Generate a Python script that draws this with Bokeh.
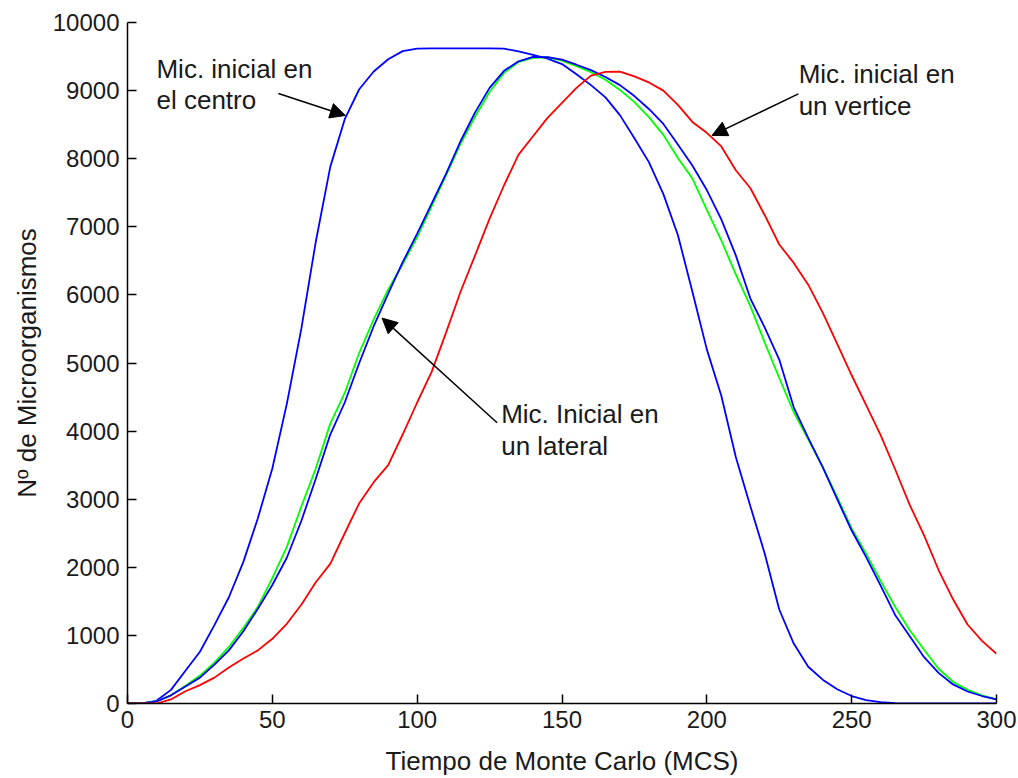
from bokeh.plotting import figure
from bokeh.models import Range1d, FixedTicker, Arrow, NormalHead, Label
from bokeh.embed import file_html
from bokeh.resources import INLINE

# Monte Carlo time steps (MCS)
mcs = list(range(0, 301, 5))

# Population when the initial micro-organisms start in the centre
centro = [0, 0, 40, 200, 480, 760, 1150, 1560, 2080, 2720,
          3450, 4400, 5500, 6780, 7880, 8580, 9020, 9280, 9460, 9580,
          9615, 9620, 9620, 9620, 9620, 9620, 9615, 9575, 9525, 9470,
          9390, 9240, 9080, 8900, 8640, 8300, 7950, 7480, 6880, 6050,
          5200, 4520, 3620, 2900, 2200, 1380, 880, 540, 350, 210,
          110, 50, 20, 5, 0, 0, 0, 0, 0, 0, 0]

# Initial micro-organisms on one side
lateral = [0, 0, 30, 120, 250, 380, 570, 780, 1060, 1390,
           1740, 2140, 2680, 3300, 3950, 4420, 5000, 5540, 6020, 6480,
           6900, 7340, 7780, 8260, 8680, 9040, 9290, 9430, 9495, 9490,
           9455, 9380, 9300, 9200, 9080, 8920, 8730, 8510, 8210, 7900,
           7540, 7110, 6580, 5950, 5520, 5050, 4350, 3900, 3470, 3000,
           2540, 2150, 1730, 1300, 990, 680, 450, 280, 176, 110, 60]

# Second run, initial micro-organisms on one side
lateral_b = [0, 0, 30, 120, 260, 410, 600, 830, 1110, 1420,
             1840, 2300, 2890, 3450, 4110, 4560, 5150, 5640, 6080, 6450,
             6850, 7300, 7760, 8220, 8620, 8980, 9260, 9420, 9480, 9490,
             9440, 9360, 9270, 9160, 9010, 8830, 8610, 8350, 8010, 7710,
             7250, 6800, 6300, 5840, 5300, 4780, 4280, 3880, 3470, 3030,
             2570, 2200, 1800, 1420, 1080, 790, 510, 320, 200, 120, 60]

# Initial micro-organisms in a corner
vertice = [0, 0, 0, 60, 180, 270, 380, 530, 660, 780,
           950, 1170, 1450, 1780, 2050, 2500, 2940, 3250, 3500, 3950,
           4420, 4870, 5450, 6050, 6580, 7120, 7610, 8060, 8330, 8600,
           8820, 9040, 9220, 9275, 9280, 9210, 9120, 9000, 8790, 8540,
           8380, 8180, 7830, 7570, 7170, 6740, 6470, 6150, 5740, 5280,
           4820, 4380, 3940, 3440, 2920, 2470, 1960, 1530, 1160, 920, 730]

x_ticks = [0, 50, 100, 150, 200, 250, 300]
y_ticks = [0, 1000, 2000, 3000, 4000, 5000, 6000, 7000, 8000, 9000, 10000]

FONT = "Liberation Sans"
INK = "#1a1a1a"

p = figure(width=1018, height=778, output_backend="svg", toolbar_location=None,
           x_range=Range1d(0, 300), y_range=Range1d(0, 10000),
           min_border_left=127, min_border_right=22,
           min_border_top=22, min_border_bottom=73)

p.outline_line_color = None
p.xgrid.visible = False
p.ygrid.visible = False
p.background_fill_color = "white"
p.border_fill_color = "white"

for ax in (p.xaxis[0], p.yaxis[0]):
    ax.major_tick_in = 9
    ax.major_tick_out = 0
    ax.minor_tick_line_color = None
    ax.axis_line_color = "black"
    ax.axis_line_width = 1.5
    ax.major_tick_line_color = "black"
    ax.major_tick_line_width = 1.5
    ax.major_label_text_font = FONT
    ax.major_label_text_font_size = "24px"
    ax.major_label_text_color = INK
    ax.axis_label_text_font = FONT
    ax.axis_label_text_font_size = "26px"
    ax.axis_label_text_font_style = "normal"
    ax.axis_label_text_color = INK

p.xaxis.ticker = FixedTicker(ticks=x_ticks)
p.yaxis.ticker = FixedTicker(ticks=y_ticks)
p.xaxis.major_label_standoff = 7
p.yaxis.major_label_standoff = 8
p.xaxis.axis_label = "Tiempo de Monte Carlo (MCS)"
p.yaxis.axis_label = "Nº de Microorganismos"
p.xaxis.axis_label_standoff = 15
p.yaxis.axis_label_standoff = 8

p.line(mcs, centro, line_color="#0000ff", line_width=1.8)
p.line(mcs, lateral_b, line_color="#00ff00", line_width=1.8)
p.line(mcs, lateral, line_color="#0000ff", line_width=1.8)
p.line(mcs, vertice, line_color="#ff0000", line_width=1.8)

# Callouts: (text lines, left x, baselines, arrow tail, arrow tip)
callouts = [
    (["Mic. inicial en", "el centro"], 10.0, [9320, 8860], (52.1, 8957), (75.2, 8635)),
    (["Mic. inicial en", "un vertice"], 231.7, [9240, 8780], (231.6, 8952), (201.8, 8342)),
    (["Mic. Inicial en", "un lateral"], 129.0, [4255, 3780], (127.6, 4123), (87.9, 5659)),
]

for lines, lx, baselines, tail, tip in callouts:
    for txt, by in zip(lines, baselines):
        p.add_layout(Label(x=lx, y=by, text=txt, text_font=FONT,
                           text_font_size="26px", text_color=INK,
                           text_baseline="alphabetic", text_align="left"))
    p.add_layout(Arrow(x_start=tail[0], y_start=tail[1], x_end=tip[0], y_end=tip[1],
                       line_color="black", line_width=1.5,
                       end=NormalHead(size=15, fill_color="black", line_color="black")))

open("out.html", "w").write(file_html(p, INLINE))
